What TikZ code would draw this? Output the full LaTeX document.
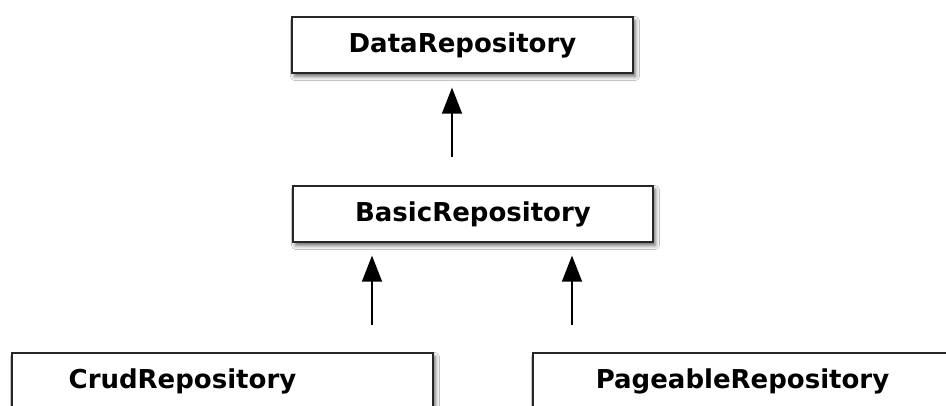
\documentclass[tikz,border=0pt]{standalone}
\usepackage{fontspec}
\setmainfont{DejaVu Sans}
\usetikzlibrary{arrows.meta,shadows.blur}
\tikzset{
  umlbox/.style={draw=black!85, line width=1.3pt, fill=white, rectangle, inner sep=0pt,
    blur shadow={shadow xshift=2.5pt, shadow yshift=-3.5pt, shadow blur radius=4pt, shadow opacity=60}},
  lbl/.style={font=\fontsize{26}{28}\selectfont\bfseries, text=black, inner sep=0pt},
  inh/.style={draw=black, line width=1.5pt, -{Triangle[width=20pt,length=26pt]}}
}
\begin{document}
\begin{tikzpicture}[x=1pt,y=-1pt]
\useasboundingbox (0,0) rectangle (946,406);
\fill[white] (0,0) rectangle (946,406);
\clip (0,0) rectangle (946,406);
\node[umlbox, lbl, minimum width=341pt, minimum height=56pt] (data) at (462.5,45) {DataRepository};
\node[umlbox, lbl, minimum width=360pt, minimum height=56pt] (basic) at (473,214) {BasicRepository};
\node[umlbox, minimum width=421pt, minimum height=56pt] (crud) at (222.5,381) {};
\node[lbl] (crudtxt) at (182.5,381) {CrudRepository};
\node[umlbox, minimum width=419pt, minimum height=56pt] (page) at (742.5,381) {};
\node[lbl] (pagetxt) at (742.5,381) {PageableRepository};
\draw[inh, shorten <=28pt, shorten >=14pt] ([xshift=-21pt]basic.north) -- ([xshift=-21pt]basic.north |- data.south);
\draw[inh, shorten <=27pt, shorten >=13pt] ([xshift=-101pt]basic.south |- crud.north) -- ([xshift=-101pt]basic.south);
\draw[inh, shorten <=27pt, shorten >=13pt] ([xshift=99pt]basic.south |- page.north) -- ([xshift=99pt]basic.south);
\end{tikzpicture}
\end{document}
